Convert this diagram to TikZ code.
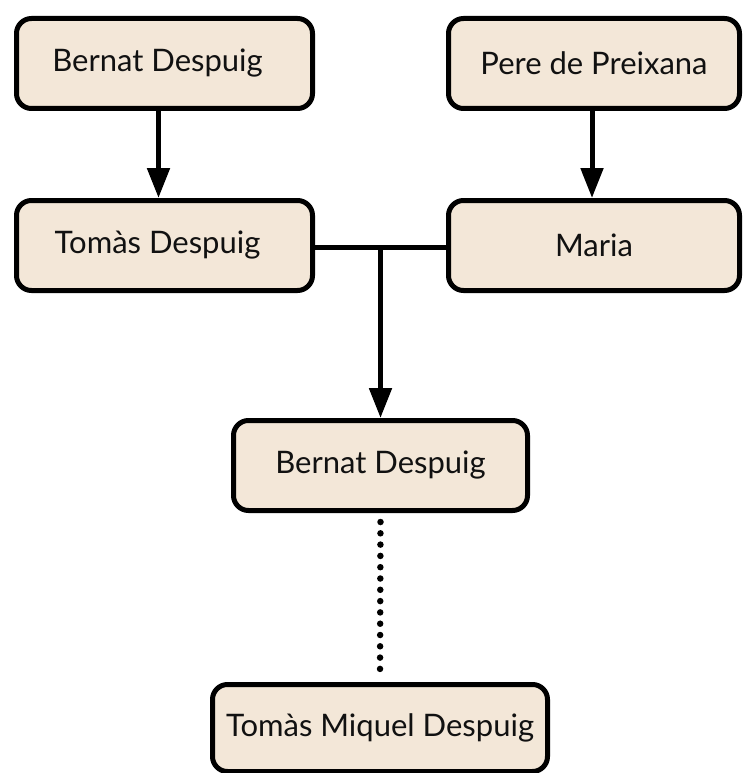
\documentclass[tikz,border=0pt]{standalone}
\usepackage{fontspec}
\setmainfont{Lato}
\usetikzlibrary{arrows.meta}
\definecolor{boxfill}{HTML}{F3E7D8}
\definecolor{ink}{HTML}{111111}
\tikzset{
  person/.style={draw=black, fill=boxfill, line width=5pt, rounded corners=15pt,
    inner sep=0pt, minimum height=90pt, text=ink,
    font=\fontsize{31}{36}\selectfont},
  conn/.style={draw=black, line width=5pt},
  arr/.style={conn, -{Triangle[length=30pt,width=22pt]}},
  dotline/.style={draw=black, line width=6.5pt, line cap=round, dash pattern=on 0pt off 11.3pt}
}
\begin{document}
\begin{tikzpicture}[x=1pt,y=-1pt]
\useasboundingbox (0,0) rectangle (743,773);
\node[person, minimum width=296pt] (b1) at (164.5,63.5) {\hspace*{-14pt}Bernat Despuig};
\node[person, minimum width=291pt] (p1) at (594,63.5) {Pere de Preixana};
\node[person, minimum width=296pt] (t1) at (164.5,245.5) {\hspace*{-14pt}Tomàs Despuig};
\node[person, minimum width=291pt] (m1) at (594,245.5) {Maria};
\node[person, minimum width=294pt] (b2) at (380.5,465.5) {Bernat Despuig};
\node[person, minimum width=335pt, minimum height=87pt] (t2) at (380,728) {Tomàs Miquel Despuig};
\draw[arr] ([xshift=-6pt]b1.south) -- ([xshift=-6pt]t1.north);
\draw[arr] ([xshift=-2pt]p1.south) -- ([xshift=-2pt]m1.north);
\draw[conn] ([yshift=-1.5pt]t1.east) -- ([yshift=-1.5pt]m1.west);
\coordinate (j) at ([yshift=-1.5pt]b2.north |- t1.east);
\draw[arr] (j) -- (b2.north);
\draw[dotline] ([yshift=-9pt]b2.south) -- ([yshift=4pt]t2.north);
\end{tikzpicture}
\end{document}
